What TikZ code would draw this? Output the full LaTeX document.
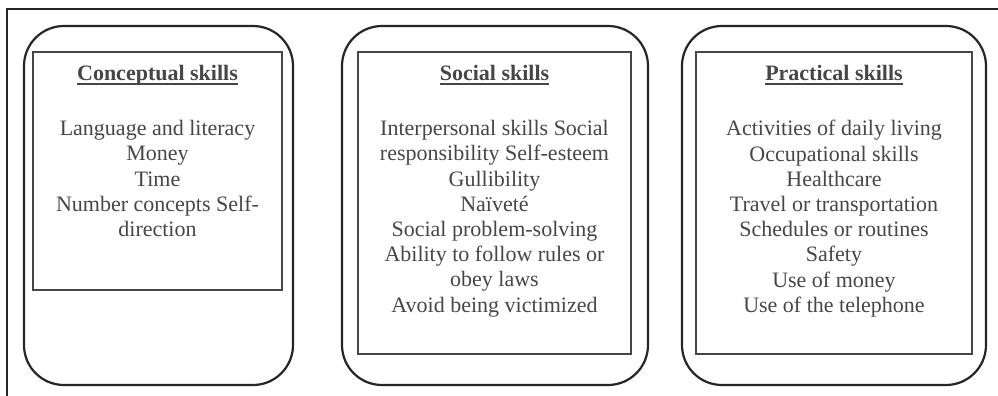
\documentclass[tikz,border=0pt]{standalone}
\usepackage{fontspec}
\setmainfont{Liberation Serif}
\usepackage{tikz}
\definecolor{inkgrey}{HTML}{464646}
\newcommand{\skillhead}[1]{\setbox0\hbox{\bfseries #1}\rlap{\copy0}\rule[-2.6pt]{\wd0}{1pt}}

\begin{document}
\begin{tikzpicture}[x=0.5pt, y=-0.5pt,
    outer/.style={draw=black!85, line width=1.1pt, rounded corners=20pt, inner sep=0, minimum height=179.5pt},
    inner/.style={draw=inkgrey, line width=1pt, inner sep=0},
    heading/.style={text=inkgrey, font=\fontsize{11}{12.6}\selectfont, anchor=base, inner sep=0},
    items/.style={text=inkgrey, font=\fontsize{11}{12.6}\selectfont, align=center, anchor=north, inner sep=0}]
        \useasboundingbox (0,0) rectangle (998,396);
        \draw [line width=1pt, draw=black!85] (7,396) -- (7,9) -- (998,9);

        % conceptual skills
        \node [outer, minimum width=134.5pt] (conceptual) at (158.5, 205.5) {};
        \node [inner, minimum width=124.5pt, minimum height=119pt] (conceptualbox) at (157.5, 171) {};
        \node [heading] (conceptualhead) at (157.5, 80) {\skillhead{Conceptual skills}};
        \node [items] (conceptuallist) at (157.5, 120) {Language and literacy\\Money\\Time\\Number concepts Self-\\direction};

        % social skills
        \node [outer, minimum width=153pt] (social) at (495, 205.5) {};
        \node [inner, minimum width=136.5pt, minimum height=151pt] (socialbox) at (494.5, 203) {};
        \node [heading] (socialhead) at (494.5, 80) {\skillhead{Social skills}};
        \node [items] (sociallist) at (494.5, 120) {Interpersonal skills Social\\responsibility Self-esteem\\Gullibility\\Naïveté\\Social problem-solving\\Ability to follow rules or\\obey laws\\Avoid being victimized};

        % practical skills
        \node [outer, minimum width=152pt] (practical) at (834, 205.5) {};
        \node [inner, minimum width=138pt, minimum height=151pt] (practicalbox) at (834, 203) {};
        \node [heading] (practicalhead) at (834, 80) {\skillhead{Practical skills}};
        \node [items] (practicallist) at (834, 120) {Activities of daily living\\Occupational skills\\Healthcare\\Travel or transportation\\Schedules or routines\\Safety\\Use of money\\Use of the telephone};
      \end{tikzpicture}
\end{document}
